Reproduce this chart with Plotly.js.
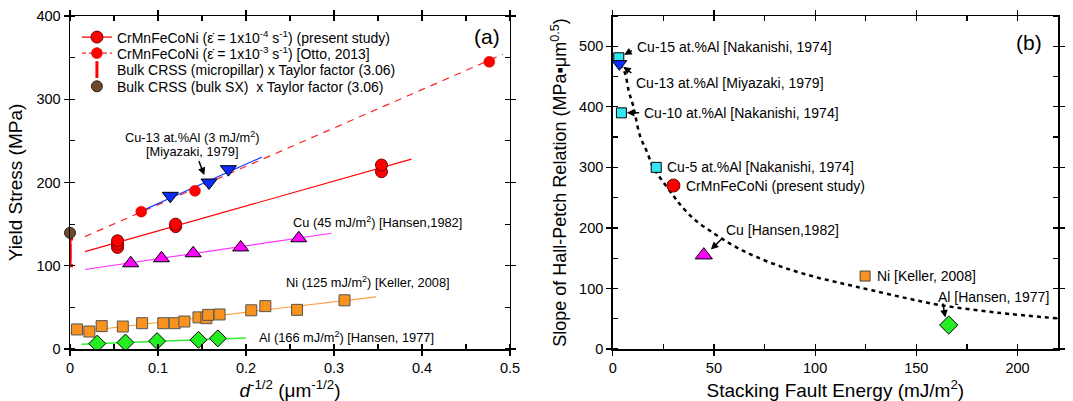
<!DOCTYPE html>
<html><head><meta charset="utf-8">
<script src="https://cdn.plot.ly/plotly-3.0.1.min.js"></script>
<style>body{margin:0;background:#fff}#chart{width:1073px;height:401px}</style>
</head><body><div id="chart"></div>
<script>
// ---------- Panel (a): yield stress vs d^-1/2 ----------
const presentX = [0.054, 0.054, 0.054, 0.120, 0.120, 0.354, 0.354];
const presentY = [122, 126, 130, 147, 150, 213, 221];
const presentFitX = [0.017, 0.388];
const presentFitY = [117, 228];

const ottoX = [0.081, 0.142, 0.4765];
const ottoY = [165, 190, 345];
const ottoFitX = [0.017, 0.492];
const ottoFitY = [135, 354];

const pillarX = [0];
const pillarY = [116];
const pillarErr = [16];

const bulkSXX = [0];
const bulkSXY = [139.5];

const cuAlX = [0.114, 0.158, 0.180];
const cuAlY = [184, 200, 216];
const cuAlFitX = [0.086, 0.218];
const cuAlFitY = [168, 230.5];

const cuX = [0.069, 0.104, 0.140, 0.194, 0.260];
const cuY = [103, 109, 115, 122, 133];
const cuFitX = [0.017, 0.297];
const cuFitY = [95.5, 139];

const niX = [0.008, 0.022, 0.036, 0.060, 0.082, 0.106, 0.119, 0.130, 0.146, 0.155, 0.157, 0.170, 0.206, 0.222, 0.258, 0.312];
const niY = [23.5, 21, 27.5, 27, 31, 31, 31, 33, 38, 37, 41, 41.5, 46.5, 51.5, 47, 58.5];
const niFitX = [0.0, 0.348];
const niFitY = [19.5, 62.5];

const alX = [0.031, 0.063, 0.099, 0.146, 0.168];
const alY = [6.5, 7.8, 9.5, 11, 12.8];
const alFitX = [0.013, 0.200];
const alFitY = [5.6, 13.3];

// ---------- Panel (b): Hall-Petch slope vs SFE ----------
const cuAlSqSFE = [3.0, 4.3, 21.5];
const cuAlSqK = [481, 390, 300];
const cuAl13SFE = [3.3];
const cuAl13K = [471];
const heaSFE = [30];
const heaK = [270];
const cuSFE = [45];
const cuK = [155];
const niSFE = [124.7];
const niK = [120.5];
const alSFE = [166];
const alK = [39.6];
const fitSFE = [3.5, 6, 8, 10, 13.5, 17, 20, 24, 30, 33, 40, 50, 60, 71, 85, 100, 115, 128, 145, 161, 190, 220];
const fitK = [470, 456, 425, 403, 352, 325, 300, 280, 253, 240, 215, 191, 170, 152, 134, 119, 107, 97, 84, 73, 60, 50.5];

function gapped(arr) { const out = []; arr.forEach((v, i) => { if (i) out.push(null); out.push(v); }); return out; }

const FONT = 'Liberation Sans, Arial, sans-serif';

const traces = [
  // fit lines panel a (no legend)
  {x: presentFitX, y: presentFitY, mode: 'lines', line: {color: '#ff0000', width: 1.2}, showlegend: false, hoverinfo: 'skip'},
  {x: ottoFitX, y: ottoFitY, mode: 'lines', line: {color: '#ff2020', width: 1.2, dash: '7px,6px'}, showlegend: false, hoverinfo: 'skip'},
  {x: cuAlFitX, y: cuAlFitY, mode: 'lines', line: {color: '#2040ff', width: 1.2}, showlegend: false, hoverinfo: 'skip'},
  {x: cuFitX, y: cuFitY, mode: 'lines', line: {color: '#ff33ff', width: 1.2}, showlegend: false, hoverinfo: 'skip'},
  {x: niFitX, y: niFitY, mode: 'lines', line: {color: '#ffa040', width: 1.2}, showlegend: false, hoverinfo: 'skip'},
  {x: alFitX, y: alFitY, mode: 'lines', line: {color: '#33ee33', width: 1.5}, showlegend: false, hoverinfo: 'skip'},
  // legend traces / points
  {x: gapped(presentX), y: gapped(presentY), mode: 'lines+markers', connectgaps: false, legend: 'legend',
   name: 'CrMnFeCoNi (ε̇ = 1x10<sup>-4</sup> s<sup>-1</sup>) (present study)',
   line: {color: '#ff0000', width: 1.2},
   marker: {symbol: 'circle', size: 12, color: '#ff0000', line: {color: '#700000', width: 1}}},
  {x: gapped(ottoX), y: gapped(ottoY), mode: 'lines+markers', connectgaps: false, legend: 'legend2',
   name: 'CrMnFeCoNi (ε̇ = 1x10<sup>-3</sup> s<sup>-1</sup>) [Otto, 2013]',
   line: {color: '#ff2020', width: 1.2, dash: '4px,3px'},
   marker: {symbol: 'circle', size: 11, color: '#ff0000', line: {color: '#cc0000', width: 0.5}}},
  {x: pillarX, y: pillarY, mode: 'markers', legend: 'legend3', name: 'Bulk CRSS (micropillar) x Taylor factor (3.06)',
   error_y: {type: 'data', array: pillarErr, visible: true, color: '#ff0000', thickness: 3, width: 3},
   marker: {symbol: 'line-ns-open', size: 12, color: '#ff0000', line: {color: '#ff0000', width: 3}}},
  {x: bulkSXX, y: bulkSXY, mode: 'markers', legend: 'legend4', name: 'Bulk CRSS (bulk SX)  x Taylor factor (3.06)',
   cliponaxis: false,
   marker: {symbol: 'circle', size: 11, color: '#704a28', line: {color: '#222', width: 1}}},
  {x: cuAlX, y: cuAlY, mode: 'markers', showlegend: false,
   marker: {symbol: 'triangle-down', size: 14, color: '#0a2cff', line: {color: '#000', width: 1}}},
  {x: cuX, y: cuY, mode: 'markers', showlegend: false,
   marker: {symbol: 'triangle-up', size: 14, color: '#ff00ff', line: {color: '#000', width: 1}}},
  {x: niX, y: niY, mode: 'markers', showlegend: false,
   marker: {symbol: 'square', size: 11, color: '#f7931e', line: {color: '#555', width: 1}}},
  {x: alX, y: alY, mode: 'markers', showlegend: false,
   marker: {symbol: 'diamond', size: 13, color: '#22ee22', line: {color: '#000', width: 1}}},
  // panel b
  {x: fitSFE, y: fitK, xaxis: 'x2', yaxis: 'y2', mode: 'lines', showlegend: false,
   line: {color: '#000', width: 2.5, dash: '4px,4px', shape: 'spline', smoothing: 1}},
  {x: cuAlSqSFE, y: cuAlSqK, xaxis: 'x2', yaxis: 'y2', mode: 'markers', showlegend: false,
   marker: {symbol: 'square', size: 10, color: '#33e6f2', line: {color: '#000', width: 1}}},
  {x: cuAl13SFE, y: cuAl13K, xaxis: 'x2', yaxis: 'y2', mode: 'markers', showlegend: false,
   marker: {symbol: 'triangle-down', size: 13, color: '#0a2cff', line: {color: '#000', width: 1}}},
  {x: heaSFE, y: heaK, xaxis: 'x2', yaxis: 'y2', mode: 'markers', showlegend: false,
   marker: {symbol: 'circle', size: 13, color: '#ff0000', line: {color: '#700000', width: 1}}},
  {x: cuSFE, y: cuK, xaxis: 'x2', yaxis: 'y2', mode: 'markers', showlegend: false,
   marker: {symbol: 'triangle-up', size: 15, color: '#ff00ff', line: {color: '#000', width: 1}}},
  {x: niSFE, y: niK, xaxis: 'x2', yaxis: 'y2', mode: 'markers', showlegend: false,
   marker: {symbol: 'square', size: 10, color: '#f7931e', line: {color: '#444', width: 1}}},
  {x: alSFE, y: alK, xaxis: 'x2', yaxis: 'y2', mode: 'markers', showlegend: false,
   marker: {symbol: 'diamond', size: 14, color: '#22ee22', line: {color: '#000', width: 1}}}
];

const axisCommon = {
  showline: true, linecolor: '#000', linewidth: 1.5, mirror: 'allticks',
  ticks: 'outside', ticklen: 5, tickwidth: 1.2, tickcolor: '#000',
  minor: {ticks: 'inside', ticklen: 5, tickwidth: 1.2, tickcolor: '#000'},
  showgrid: false, zeroline: false,
  tickfont: {family: FONT, size: 14.5, color: '#000'}
};

function txt(x, y, text, xref, yref, extra) {
  return Object.assign({x: x, y: y, xref: xref, yref: yref, text: text, showarrow: false,
    xanchor: 'left', yanchor: 'middle', font: {family: FONT, size: 14, color: '#000'}}, extra || {});
}
function arrow(x0, y0, x1, y1, xref, yref) {
  return {x: x1, y: y1, ax: x0, ay: y0, xref: xref, yref: yref, axref: xref, ayref: yref,
    text: '', showarrow: true, arrowhead: 2, arrowsize: 1, arrowwidth: 1.5, arrowcolor: '#000',
    standoff: 0, startstandoff: 0};
}
const SMALL = {family: FONT, size: 12.8, color: '#000'};

const annotations = [
  txt(0.139, 255, 'Cu-13 at.%Al (3 mJ/m<sup>2</sup>)', 'x', 'y', {xanchor: 'center', font: SMALL}),
  txt(0.139, 237, '[Miyazaki, 1979]', 'x', 'y', {xanchor: 'center', font: SMALL}),
  arrow(0.1458, 227.5, 0.1527, 209, 'x', 'y'),
  txt(0.251, 152, 'Cu (45 mJ/m<sup>2</sup>) [Hansen,1982]', 'x', 'y', {font: SMALL}),
  txt(0.243, 80.8, 'Ni (125 mJ/m<sup>2</sup>) [Keller, 2008]', 'x', 'y', {font: SMALL}),
  txt(0.212, 14.5, 'Al (166 mJ/m<sup>2</sup>) [Hansen, 1977]', 'x', 'y', {font: SMALL}),
  txt(0.4735, 375, '(a)', 'x', 'y', {xanchor: 'center', font: {family: FONT, size: 21, color: '#000'}}),

  txt(11, 498, 'Cu-15 at.%Al [Nakanishi, 1974]', 'x2', 'y2'),
  arrow(10.2, 494, 5.6, 486, 'x2', 'y2'),
  txt(10.6, 440, 'Cu-13 at.%Al [Miyazaki, 1979]', 'x2', 'y2'),
  arrow(10, 454, 5.2, 466, 'x2', 'y2'),
  txt(14.5, 390, 'Cu-10 at.%Al [Nakanishi, 1974]', 'x2', 'y2'),
  arrow(13.8, 390, 7, 390, 'x2', 'y2'),
  txt(26, 300, 'Cu-5 at.%Al [Nakanishi, 1974]', 'x2', 'y2'),
  txt(35, 269, 'CrMnFeCoNi (present study)', 'x2', 'y2'),
  txt(55, 196, 'Cu [Hansen,1982]', 'x2', 'y2'),
  arrow(54.6, 184, 48.5, 164.5, 'x2', 'y2'),
  txt(129.5, 120.5, 'Ni [Keller, 2008]', 'x2', 'y2'),
  txt(159.5, 86, 'Al [Hansen, 1977]', 'x2', 'y2'),
  arrow(163, 78, 164.3, 52, 'x2', 'y2'),
  txt(205.7, 506, '(b)', 'x2', 'y2', {xanchor: 'center', font: {family: FONT, size: 21, color: '#000'}})
];

function legendAt(py) {
  return {x: 0.007, y: 1 - (py - 16) / 333, xanchor: 'left', yanchor: 'middle', bgcolor: 'rgba(0,0,0,0)',
    font: {family: FONT, size: 14, color: '#000'}};
}

const layout = {
  width: 1073, height: 401,
  margin: {l: 70, r: 15, t: 16, b: 52},
  paper_bgcolor: '#fff', plot_bgcolor: '#fff',
  font: {family: FONT, size: 14, color: '#000'},
  showlegend: true,
  legend: legendAt(37.5),
  legend2: legendAt(53.5),
  legend3: legendAt(70),
  legend4: legendAt(86.7),
  xaxis: Object.assign({}, axisCommon, {domain: [0, 0.4453], range: [0, 0.5], dtick: 0.1, tick0: 0,
    minor: Object.assign({}, axisCommon.minor, {dtick: 0.05}),
    title: {text: '<i>d</i><sup>-1/2</sup> (μm<sup>-1/2</sup>)', font: {family: FONT, size: 19}}, anchor: 'y'}),
  yaxis: Object.assign({}, axisCommon, {domain: [0, 1], range: [0, 400], dtick: 100, tick0: 0,
    minor: Object.assign({}, axisCommon.minor, {dtick: 50}),
    title: {text: 'Yield Stress (MPa)', font: {family: FONT, size: 19}}, anchor: 'x'}),
  xaxis2: Object.assign({}, axisCommon, {domain: [0.5493, 1], range: [0, 220], dtick: 50, tick0: 0,
    minor: Object.assign({}, axisCommon.minor, {dtick: 25}),
    title: {text: 'Stacking Fault Energy (mJ/m<sup>2</sup>)', font: {family: FONT, size: 19}}, anchor: 'y2'}),
  yaxis2: Object.assign({}, axisCommon, {domain: [0, 1], range: [0, 550], dtick: 100, tick0: 0,
    minor: Object.assign({}, axisCommon.minor, {dtick: 50}),
    title: {text: 'Slope of Hall-Petch Relation (MPa▪μm<sup>0.5</sup>)', font: {family: FONT, size: 18}}, anchor: 'x2'}),
  annotations: annotations
};

Plotly.newPlot('chart', traces, layout, {displayModeBar: false, staticPlot: true});
</script>
</body></html>
